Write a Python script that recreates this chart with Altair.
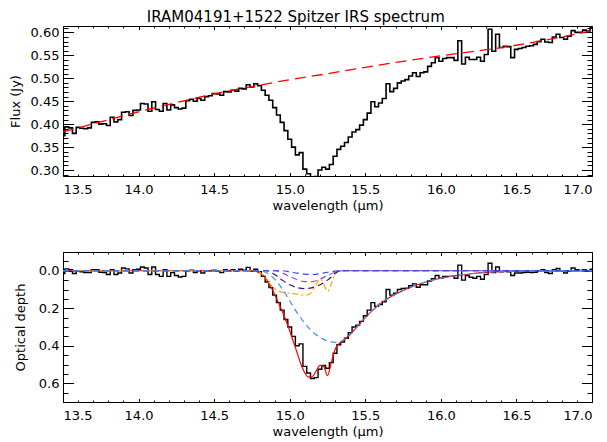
import altair as alt
import pandas as pd

FONT = "DejaVu Sans"
W, H = 529, 150

# ---------------- data ----------------
wave_start, wave_step, n_pts = 13.5, 0.025, 141
wave = [round(wave_start + wave_step * i, 3) for i in range(n_pts)]

flux = [0.375, 0.394, 0.392, 0.380, 0.393, 0.391, 0.390, 0.392, 0.404, 0.405,
        0.400, 0.401, 0.397, 0.415, 0.405, 0.410, 0.426, 0.427, 0.419, 0.430,
        0.431, 0.445, 0.444, 0.428, 0.449, 0.432, 0.428, 0.445, 0.431, 0.442,
        0.436, 0.433, 0.435, 0.451, 0.454, 0.450, 0.456, 0.452, 0.460, 0.462,
        0.467, 0.466, 0.463, 0.471, 0.470, 0.474, 0.472, 0.478, 0.477, 0.486,
        0.481, 0.488, 0.484, 0.474, 0.463, 0.452, 0.436, 0.420, 0.404, 0.386,
        0.367, 0.350, 0.333, 0.338, 0.302, 0.292, 0.284, 0.286, 0.300, 0.306,
        0.302, 0.312, 0.330, 0.345, 0.352, 0.360, 0.372, 0.383, 0.388, 0.398,
        0.410, 0.424, 0.449, 0.438, 0.446, 0.456, 0.488, 0.471, 0.478, 0.490,
        0.494, 0.497, 0.505, 0.512, 0.504, 0.512, 0.514, 0.526, 0.534, 0.545,
        0.537, 0.543, 0.545, 0.545, 0.539, 0.582, 0.531, 0.546, 0.541, 0.541,
        0.546, 0.537, 0.552, 0.607, 0.559, 0.596, 0.567, 0.570, 0.569, 0.545,
        0.563, 0.565, 0.567, 0.570, 0.571, 0.574, 0.580, 0.585, 0.579, 0.578,
        0.590, 0.596, 0.589, 0.585, 0.592, 0.604, 0.600, 0.600, 0.605, 0.603,
        0.611]

tau = [0.015, -0.010, -0.005, 0.015, 0.000, 0.005, 0.010, 0.010, -0.005, -0.005,
       0.008, 0.010, 0.020, -0.005, 0.020, 0.012, -0.015, -0.010, 0.012, -0.005,
       -0.008, -0.020, -0.015, 0.020, -0.020, 0.020, 0.030, -0.005, 0.030, 0.010,
       0.025, 0.033, 0.030, 0.000, -0.003, 0.010, 0.000, 0.012, 0.000, 0.000,
       -0.003, 0.002, 0.010, -0.005, 0.000, -0.005, 0.002, -0.008, -0.003, -0.018,
       0.002, -0.008, 0.005, 0.030, 0.060, 0.090, 0.130, 0.170, 0.210, 0.260,
       0.300, 0.350, 0.400, 0.390, 0.510, 0.545, 0.575, 0.570, 0.525, 0.505,
       0.520, 0.490, 0.440, 0.395, 0.380, 0.360, 0.330, 0.300, 0.290, 0.270,
       0.240, 0.210, 0.170, 0.190, 0.180, 0.165, 0.100, 0.130, 0.120, 0.100,
       0.095, 0.093, 0.080, 0.070, 0.088, 0.075, 0.075, 0.055, 0.043, 0.025,
       0.040, 0.030, 0.030, 0.030, 0.040, -0.030, 0.050, 0.025, 0.035, 0.040,
       0.030, 0.045, 0.020, -0.040, 0.010, -0.020, 0.005, 0.000, 0.005, 0.025,
       0.012, 0.012, 0.010, 0.008, 0.010, 0.008, 0.000, -0.005, 0.010, 0.015,
       -0.005, -0.012, 0.003, 0.012, 0.003, -0.015, -0.005, -0.002, -0.005, 0.000,
       -0.008]

cont_wave = [13.5, 13.75, 14.0, 14.25, 14.5, 14.75, 15.0, 15.25, 15.5, 15.75,
             16.0, 16.25, 16.5, 16.75, 17.0]
cont_flux = [0.383, 0.405, 0.427, 0.447, 0.466, 0.482, 0.497, 0.510, 0.524, 0.537,
             0.549, 0.560, 0.572, 0.587, 0.604]

fit_wave = [13.5, 14.75, 14.8, 14.825, 14.85, 14.875, 14.9, 14.925, 14.95, 14.975,
            15.0, 15.025, 15.05, 15.075, 15.1, 15.125, 15.15, 15.175, 15.2, 15.225,
            15.25, 15.275, 15.3, 15.325, 15.35, 15.4, 15.45, 15.5, 15.55, 15.6,
            15.7, 15.8, 15.9, 16.0, 16.1, 16.2, 16.3, 16.4, 16.5, 16.7, 17.0]
fit_tau = [0.0, 0.0, 0.010, 0.025, 0.050, 0.085, 0.125, 0.170, 0.215, 0.265,
           0.320, 0.380, 0.440, 0.500, 0.545, 0.567, 0.565, 0.535, 0.505, 0.510,
           0.560, 0.490, 0.420, 0.390, 0.375, 0.340, 0.295, 0.250, 0.210, 0.175,
           0.125, 0.088, 0.060, 0.040, 0.026, 0.016, 0.009, 0.005, 0.003, 0.001, 0.0]

broad_wave = [13.5, 14.8, 14.85, 14.9, 14.95, 15.0, 15.05, 15.1, 15.15, 15.2,
              15.25, 15.3, 15.325, 15.35, 15.4, 15.45, 15.5, 15.55, 15.6, 15.7,
              15.8, 15.9, 16.0, 16.1, 16.2, 16.3, 16.4, 16.5, 16.7, 17.0]
broad_tau = [0.0, 0.0, 0.012, 0.045, 0.095, 0.160, 0.225, 0.280, 0.325, 0.355,
             0.375, 0.382, 0.380, 0.372, 0.340, 0.295, 0.250, 0.210, 0.175, 0.125,
             0.088, 0.060, 0.040, 0.026, 0.016, 0.009, 0.005, 0.003, 0.001, 0.0]

orange_wave = [13.5, 14.78, 14.82, 14.86, 14.9, 14.95, 15.0, 15.05, 15.1, 15.13,
               15.17, 15.2, 15.22, 15.25, 15.27, 15.3, 15.33, 17.0]
orange_tau = [0.0, 0.0, 0.020, 0.060, 0.095, 0.115, 0.120, 0.125, 0.130, 0.125,
              0.080, 0.045, 0.060, 0.110, 0.080, 0.020, 0.0, 0.0]

dpurple_wave = [13.5, 14.85, 14.9, 14.95, 15.0, 15.05, 15.1, 15.15, 15.2, 15.25,
                15.3, 15.33, 17.0]
dpurple_tau = [0.0, 0.0, 0.020, 0.050, 0.075, 0.090, 0.095, 0.090, 0.075, 0.050,
               0.015, 0.0, 0.0]

mpurple_wave = [13.5, 14.9, 14.95, 15.0, 15.05, 15.1, 15.15, 15.2, 15.25, 15.3,
                15.35, 17.0]
mpurple_tau = [0.0, 0.0, 0.012, 0.030, 0.048, 0.058, 0.058, 0.045, 0.025, 0.008,
               0.0, 0.0]

sblue_wave = [13.5, 14.95, 15.0, 15.05, 15.1, 15.15, 15.2, 15.25, 15.3, 15.35, 17.0]
sblue_tau = [0.0, 0.0, 0.006, 0.013, 0.018, 0.020, 0.016, 0.008, 0.002, 0.0, 0.0]

x_major = [13.5, 14.0, 14.5, 15.0, 15.5, 16.0, 16.5, 17.0]
x_minor = [round(13.5 + 0.1 * i, 1) for i in range(36)]
y1_major = [0.30, 0.35, 0.40, 0.45, 0.50, 0.55, 0.60]
y1_minor = [round(0.29 + 0.01 * i, 2) for i in range(33)]
y2_major = [0.0, 0.2, 0.4, 0.6]
y2_minor = [round(-0.1 + 0.05 * i, 2) for i in range(17)]

# ---------------- helpers ----------------
xscale = alt.Scale(domain=[13.5, 17.0], nice=False, zero=False)
y1scale = alt.Scale(domain=[0.287, 0.614], nice=False, zero=False)
y2scale = alt.Scale(domain=[-0.1, 0.7], nice=False, zero=False, reverse=True)


def tick_size(mult, major, minor):
    return {"condition": {"test": f"abs(datum.value*{mult}-round(datum.value*{mult}))<0.001",
                          "value": major}, "value": minor}


def x_label_axis():
    return alt.Axis(orient="bottom", values=x_major, format=".1f", ticks=False,
                    domain=False, grid=False, labelPadding=7, labelFontSize=13,
                    labelFont=FONT, labelColor="black", title="wavelength (μm)",
                    titleFont=FONT, titleFontSize=13, titleFontWeight="normal",
                    titleColor="black", titlePadding=3)


def y_label_axis(values, fmt, title, tpad):
    return alt.Axis(orient="left", values=values, format=fmt, ticks=False,
                    domain=False, grid=False, labelPadding=4, labelFontSize=13,
                    labelFont=FONT, labelColor="black", title=title,
                    titleFont=FONT, titleFontSize=13, titleFontWeight="normal",
                    titleColor="black", titlePadding=tpad)


def x_tick_axis(orient):
    return alt.Axis(orient=orient, offset=-H, values=x_minor, labels=False,
                    domain=False, grid=False, title=None, tickColor="black",
                    tickWidth=1, tickSize=tick_size(2, 3.5, 2))


def y_tick_axis(orient, values, mult):
    return alt.Axis(orient=orient, offset=-W, values=values, labels=False,
                    domain=False, grid=False, title=None, tickColor="black",
                    tickWidth=1, tickSize=tick_size(mult, 10.5, 5))


# ---------------- top panel ----------------
df_flux = pd.DataFrame({"wave": wave, "flux": flux})
df_cont = pd.DataFrame({"wave": cont_wave, "flux": cont_flux})

top_data = alt.Chart(df_flux).mark_line(
    interpolate="step", color="black", strokeWidth=1.6, clip=True
).encode(
    x=alt.X("wave:Q", scale=xscale, axis=x_label_axis()),
    y=alt.Y("flux:Q", scale=y1scale,
            axis=y_label_axis(y1_major, ".2f", "Flux (Jy)", 8)),
)
top_cont = alt.Chart(df_cont).mark_line(
    color="#ff0000", strokeWidth=1.3, strokeDash=[11, 6], interpolate="monotone", clip=True
).encode(
    x=alt.X("wave:Q", scale=xscale, axis=x_tick_axis("top")),
    y=alt.Y("flux:Q", scale=y1scale, axis=y_tick_axis("right", y1_minor, 20)),
)
top_cont2 = alt.Chart(df_cont).mark_line(opacity=0, clip=True).encode(
    x=alt.X("wave:Q", scale=xscale, axis=x_tick_axis("bottom")),
    y=alt.Y("flux:Q", scale=y1scale, axis=y_tick_axis("left", y1_minor, 20)),
)
top = alt.layer(top_data, top_cont, top_cont2).resolve_axis(
    x="independent", y="independent"
).properties(width=W, height=H)

# ---------------- bottom panel ----------------
df_tau = pd.DataFrame({"wave": wave, "tau": tau})
df_fit = pd.DataFrame({"wave": fit_wave, "tau": fit_tau})


def comp_layer(wv, tv, color, dash, width=1.2):
    return alt.Chart(pd.DataFrame({"wave": wv, "tau": tv})).mark_line(
        color=color, strokeDash=dash, strokeWidth=width, interpolate="monotone", clip=True
    ).encode(
        x=alt.X("wave:Q", scale=xscale, axis=None),
        y=alt.Y("tau:Q", scale=y2scale, axis=None),
    )


bot_data = alt.Chart(df_tau).mark_line(
    interpolate="step", color="black", strokeWidth=1.4, clip=True
).encode(
    x=alt.X("wave:Q", scale=xscale, axis=x_label_axis()),
    y=alt.Y("tau:Q", scale=y2scale,
            axis=y_label_axis(y2_major, ".1f", "Optical depth", 11)),
)
bot_fit = alt.Chart(df_fit).mark_line(
    color="#ff0000", strokeWidth=1.2, interpolate="monotone", clip=True
).encode(
    x=alt.X("wave:Q", scale=xscale, axis=x_tick_axis("top")),
    y=alt.Y("tau:Q", scale=y2scale, axis=y_tick_axis("right", y2_minor, 5)),
)
bot_ticks = alt.Chart(df_fit).mark_line(opacity=0, clip=True).encode(
    x=alt.X("wave:Q", scale=xscale, axis=x_tick_axis("bottom")),
    y=alt.Y("tau:Q", scale=y2scale, axis=y_tick_axis("left", y2_minor, 5)),
)

bottom = alt.layer(
    bot_data, bot_fit, bot_ticks,
    comp_layer(orange_wave, orange_tau, "#ffa500", [6, 3, 2, 3]),
    comp_layer(dpurple_wave, dpurple_tau, "#3d0a78", [6, 4]),
    comp_layer(mpurple_wave, mpurple_tau, "#8a4fd0", [6, 4]),
    comp_layer(sblue_wave, sblue_tau, "#2a4cff", [6, 4]),
    comp_layer(broad_wave, broad_tau, "#3d8ef0", [6, 4]),
).resolve_axis(x="independent", y="independent").properties(width=W, height=H)

chart = alt.vconcat(
    top, bottom, spacing=38,
    title=alt.Title("IRAM04191+1522 Spitzer IRS spectrum", font=FONT, fontSize=15,
                    fontWeight="normal", color="black", anchor="middle", offset=0,
                    dx=-5),
).properties(padding={"top": 2, "left": 0, "right": 0, "bottom": 0}).configure_view(
    stroke="black", strokeWidth=1
).configure_axis(domain=False, grid=False)

chart.save("out.html", embed_options={"renderer": "svg", "actions": False})
